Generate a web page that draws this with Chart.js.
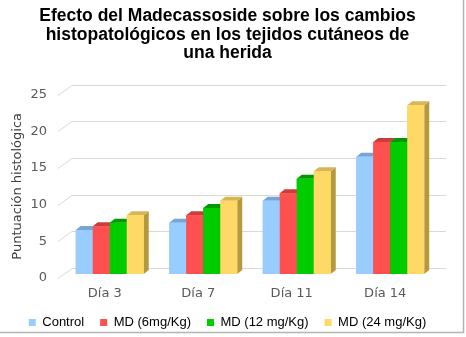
<!DOCTYPE html>
<html>
<head>
    <title>Efecto del Madecassoside</title>
    <script src="https://cdn.jsdelivr.net/npm/chart.js"></script>
    <style>
        body { margin: 0; background: #fff; }
        #wrap { position: relative; width: 466px; height: 337px; }
    </style>
</head>
<body>
    <div id="wrap"><canvas id="barChart"></canvas></div>

    <script>
        // chart values
        const categories = ['Día 3', 'Día 7', 'Día 11', 'Día 14'];
        const seriesNames = ['Control', 'MD (6mg/Kg)', 'MD (12 mg/Kg)', 'MD (24 mg/Kg)'];
        const control = [6, 7, 10, 16];
        const md6 = [6.5, 8, 11, 18];
        const md12 = [7, 9, 13, 18];
        const md24 = [8, 10, 14, 23];
        const yTicks = [0, 5, 10, 15, 20, 25];

        const frontColors = ['#99CCFF', '#FF5050', '#00CC00', '#FFD966'];
        const topColors = ['#76A6D8', '#CC3C3C', '#009A00', '#D6B655'];
        const sideColors = ['#6F94BC', '#B03434', '#008800', '#B5993F'];

        // 3d look: bars pushed a bit into the depth, grid drawn on the back wall
        const barShift = { x: 5, y: -4 };
        const barDepth = { x: 5, y: -4 };
        const wallDepth = { x: 14, y: -10 };

        const depthPlugin = {
            id: 'depth',
            beforeDatasetsDraw(chart) {
                const ctx = chart.ctx;
                const ys = chart.scales.y;
                const area = chart.chartArea;
                ctx.save();
                ctx.strokeStyle = '#d9d9d9';
                ctx.lineWidth = 1;
                yTicks.forEach(v => {
                    const y = Math.round(ys.getPixelForValue(v)) + 0.5;
                    ctx.beginPath();
                    ctx.moveTo(area.left, y);
                    ctx.lineTo(area.left + wallDepth.x, y + wallDepth.y);
                    ctx.lineTo(area.right + wallDepth.x, y + wallDepth.y);
                    ctx.stroke();
                });
                ctx.restore();
                ctx.save();
                ctx.translate(barShift.x, barShift.y);
            },
            afterDatasetsDraw(chart) {
                // redraw left to right so each bar hides the side of the one before
                const ctx = chart.ctx;
                chart.data.datasets.forEach((ds, i) => {
                    chart.getDatasetMeta(i).data.forEach(bar => {
                        const half = bar.width / 2;
                        const l = bar.x - half, r = bar.x + half;
                        const t = bar.y, b = bar.base;
                        ctx.fillStyle = sideColors[i];
                        ctx.beginPath();
                        ctx.moveTo(r, t);
                        ctx.lineTo(r + barDepth.x, t + barDepth.y);
                        ctx.lineTo(r + barDepth.x, b + barDepth.y);
                        ctx.lineTo(r, b);
                        ctx.closePath();
                        ctx.fill();
                        ctx.fillStyle = topColors[i];
                        ctx.beginPath();
                        ctx.moveTo(l, t);
                        ctx.lineTo(l + barDepth.x, t + barDepth.y);
                        ctx.lineTo(r + barDepth.x, t + barDepth.y);
                        ctx.lineTo(r, t);
                        ctx.closePath();
                        ctx.fill();
                        bar.draw(ctx);
                    });
                });
                ctx.restore();
            },
            afterDraw(chart) {
                const ctx = chart.ctx;
                ctx.save();
                ctx.strokeStyle = '#b4b4b4';
                ctx.lineWidth = 1.5;
                ctx.beginPath();
                ctx.moveTo(463.5, 0);
                ctx.lineTo(463.5, 332.5);
                ctx.lineTo(0, 332.5);
                ctx.stroke();
                ctx.restore();
            }
        };

        const seriesValues = [control, md6, md12, md24];

        new Chart(document.getElementById('barChart'), {
            type: 'bar',
            data: {
                labels: categories,
                datasets: seriesNames.map((name, i) => ({
                    label: name,
                    data: seriesValues[i],
                    backgroundColor: frontColors[i],
                    borderWidth: 0,
                    barPercentage: 1,
                    categoryPercentage: 0.727
                }))
            },
            options: {
                responsive: true,
                maintainAspectRatio: false,
                animation: false,
                layout: { padding: { left: 0, right: 11, top: 0, bottom: 0 } },
                plugins: {
                    title: {
                        display: true,
                        text: [
                            'Efecto del Madecassoside sobre los cambios',
                            'histopatológicos en los tejidos cutáneos de',
                            'una herida'
                        ],
                        color: '#000',
                        font: { family: '"Liberation Sans", Arial, sans-serif', size: 17.5, weight: 'bold', lineHeight: 1.06 },
                        padding: { top: 7, bottom: 32 }
                    },
                    legend: {
                        position: 'bottom',
                        maxHeight: 37,
                        labels: {
                            boxWidth: 7,
                            boxHeight: 7,
                            padding: 16,
                            color: '#000',
                            font: { family: '"Liberation Sans", Arial, sans-serif', size: 13 }
                        }
                    },
                    tooltip: { enabled: false }
                },
                scales: {
                    x: {
                        grid: { display: false, drawTicks: false },
                        border: { display: false },
                        afterFit(scale) { scale.height = 22; },
                        ticks: {
                            color: '#595959',
                            padding: 12,
                            font: { family: '"DejaVu Sans", Verdana, sans-serif', size: 13, lineHeight: 0.6 }
                        }
                    },
                    y: {
                        min: 0,
                        max: 25,
                        grid: { display: false, drawTicks: false },
                        border: { display: false },
                        afterFit(scale) { scale.width = 58; },
                        afterBuildTicks(scale) {
                            scale.ticks = yTicks.map(v => ({ value: v }));
                        },
                        ticks: {
                            color: '#595959',
                            padding: 11,
                            font: { family: '"DejaVu Sans", Verdana, sans-serif', size: 13 }
                        },
                        title: {
                            display: true,
                            text: 'Puntuación histológica',
                            color: '#404040',
                            padding: { top: 10, bottom: 5 },
                            font: { family: '"DejaVu Sans", Verdana, sans-serif', size: 13 }
                        }
                    },
                    // empty axis on the right only to keep room for the back wall
                    yRight: {
                        position: 'right',
                        min: 0,
                        max: 25,
                        grid: { display: false, drawTicks: false },
                        border: { display: false },
                        ticks: { display: false },
                        afterFit(scale) { scale.width = 23; }
                    }
                }
            },
            plugins: [depthPlugin]
        });
    </script>
</body>
</html>
